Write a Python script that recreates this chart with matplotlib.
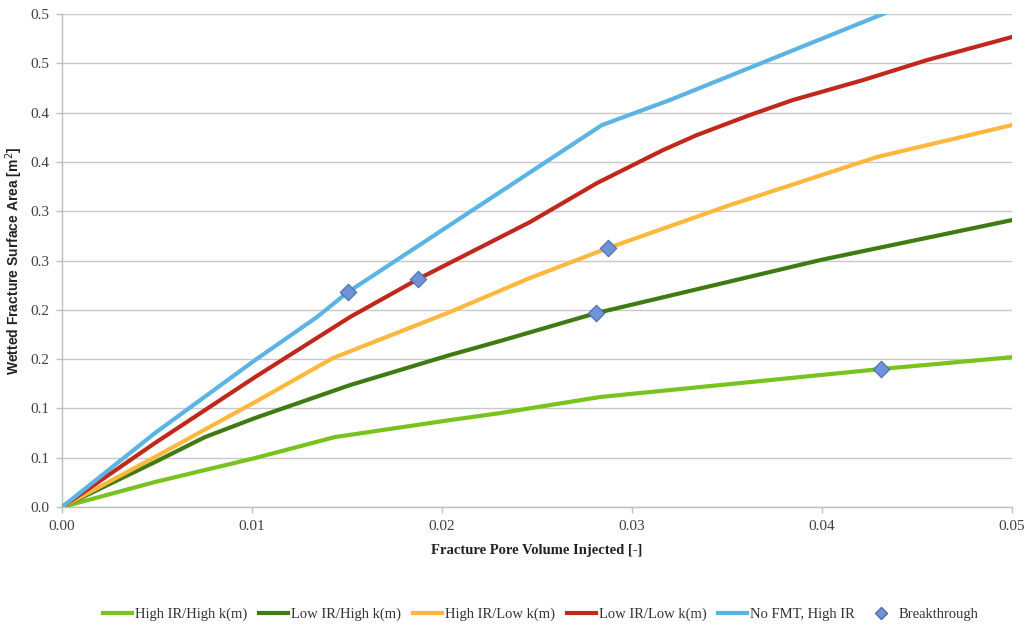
import matplotlib
matplotlib.use("Agg")
import matplotlib.pyplot as plt
from matplotlib.lines import Line2D

# Fracture pore volume injected [-] and wetted fracture surface area [m2]
hi_ir_hi_k_x = [0.0, 0.00489, 0.01016, 0.01437, 0.02042, 0.02306, 0.02832, 0.03358, 0.0431, 0.05]
hi_ir_hi_k_y = [0.0, 0.0254, 0.0497, 0.0710, 0.0882, 0.0953, 0.1116, 0.1217, 0.1400, 0.1520]

lo_ir_hi_k_x = [0.0, 0.00489, 0.00753, 0.01016, 0.01516, 0.02042, 0.02306, 0.0281, 0.03996, 0.05]
lo_ir_hi_k_y = [0.0, 0.0456, 0.0710, 0.0903, 0.1237, 0.1542, 0.1684, 0.1966, 0.2507, 0.2910]

hi_ir_lo_k_x = [0.0, 0.00489, 0.01016, 0.01426, 0.02042, 0.02463, 0.02874, 0.03516, 0.04289, 0.05]
hi_ir_lo_k_y = [0.0, 0.0507, 0.1065, 0.1511, 0.1978, 0.2323, 0.2627, 0.3063, 0.3550, 0.3874]

lo_ir_lo_k_x = [0.0, 0.00489, 0.00753, 0.01016, 0.01516, 0.01874, 0.02463, 0.02816, 0.03163,
                0.03342, 0.03621, 0.03847, 0.04216, 0.04553, 0.05]
lo_ir_lo_k_y = [0.0, 0.0649, 0.0984, 0.1318, 0.1927, 0.2312, 0.2890, 0.3286, 0.3620,
                0.3773, 0.3976, 0.4128, 0.4330, 0.4533, 0.4767]

no_fmt_x = [0.0, 0.00489, 0.01016, 0.01342, 0.01505, 0.02842, 0.0320, 0.04321, 0.05]
no_fmt_y = [0.0, 0.0750, 0.1490, 0.1927, 0.2180, 0.3874, 0.4128, 0.5000, 0.5520]

# Breakthrough points
bt_x = [0.01505, 0.01874, 0.02874, 0.0281, 0.0431]
bt_y = [0.2180, 0.2312, 0.2627, 0.1966, 0.1400]

series_labels = ["High IR/High k(m)", "Low IR/High k(m)", "High IR/Low k(m)",
                 "Low IR/Low k(m)", "No FMT, High IR"]
breakthrough_label = "Breakthrough"

x_ticks = [0.0, 0.01, 0.02, 0.03, 0.04, 0.05]
x_tick_labels = ["0.00", "0.01", "0.02", "0.03", "0.04", "0.05"]
y_ticks = [0.0, 0.05, 0.10, 0.15, 0.20, 0.25, 0.30, 0.35, 0.40, 0.45, 0.50]
y_tick_labels = ["0.0", "0.1", "0.1", "0.2", "0.2", "0.3", "0.3", "0.4", "0.4", "0.5", "0.5"]

x_label = "Fracture Pore Volume Injected [-]"
y_label = "Wetted Fracture Surface Area [m$^2$]"

colors = ["#78C31E", "#3F7A12", "#FDB83D", "#C1281C", "#5BB4E2"]
serif = "Liberation Serif"

fig = plt.figure(figsize=(10.30, 6.26), dpi=100)
ax = fig.add_axes([0.0602, 0.190, 0.9223, 0.7876])

curves = [(hi_ir_hi_k_x, hi_ir_hi_k_y), (lo_ir_hi_k_x, lo_ir_hi_k_y),
          (hi_ir_lo_k_x, hi_ir_lo_k_y), (lo_ir_lo_k_x, lo_ir_lo_k_y),
          (no_fmt_x, no_fmt_y)]
for (xs, ys), c, lab in zip(curves, colors, series_labels):
    ax.plot(xs, ys, color=c, lw=3.0, label=lab, solid_capstyle="round",
            solid_joinstyle="round", zorder=3)

ax.scatter(bt_x, bt_y, marker="D", s=70, facecolor="#6E93D6", edgecolor="#4A6FB0",
           linewidth=0.8, zorder=5, label=breakthrough_label)

ax.set_xlim(0, 0.05)
ax.set_ylim(0, 0.5)
ax.set_xticks(x_ticks)
ax.set_xticklabels(x_tick_labels, fontfamily=serif, fontsize=11, color="#404040")
ax.set_yticks(y_ticks)
ax.set_yticklabels(y_tick_labels, fontfamily=serif, fontsize=11, color="#404040")
ax.tick_params(axis="both", length=4, width=1, color="#BFBFBF", pad=5)

ax.grid(axis="y", color="#C8C8C8", lw=1.0, zorder=0)
ax.set_axisbelow(True)
for side in ("top", "right"):
    ax.spines[side].set_visible(False)
for side in ("left", "bottom"):
    ax.spines[side].set_color("#BFBFBF")
    ax.spines[side].set_linewidth(1.0)

ax.set_xlabel(x_label, fontfamily=serif, fontweight="bold", fontsize=10.5,
              color="#222222", labelpad=8)
ax.set_ylabel(y_label, fontfamily="Liberation Sans", fontweight="bold", fontsize=10,
              color="#222222")
ax.yaxis.set_label_coords(-0.039, 0.5)

handles = [Line2D([0], [0], color=c, lw=3.0) for c in colors]
handles.append(Line2D([0], [0], marker="D", ls="none", markersize=6,
                      markerfacecolor="#6E93D6", markeredgecolor="#4A6FB0"))
fig.legend(handles, series_labels + [breakthrough_label], loc="center",
           bbox_to_anchor=(0.525, 0.019), ncol=6, frameon=False,
           prop={"family": serif, "size": 10.5}, handlelength=2.0,
           handletextpad=0.2, columnspacing=0.8, labelcolor="#333333")

fig.savefig("out.png", dpi=100)
